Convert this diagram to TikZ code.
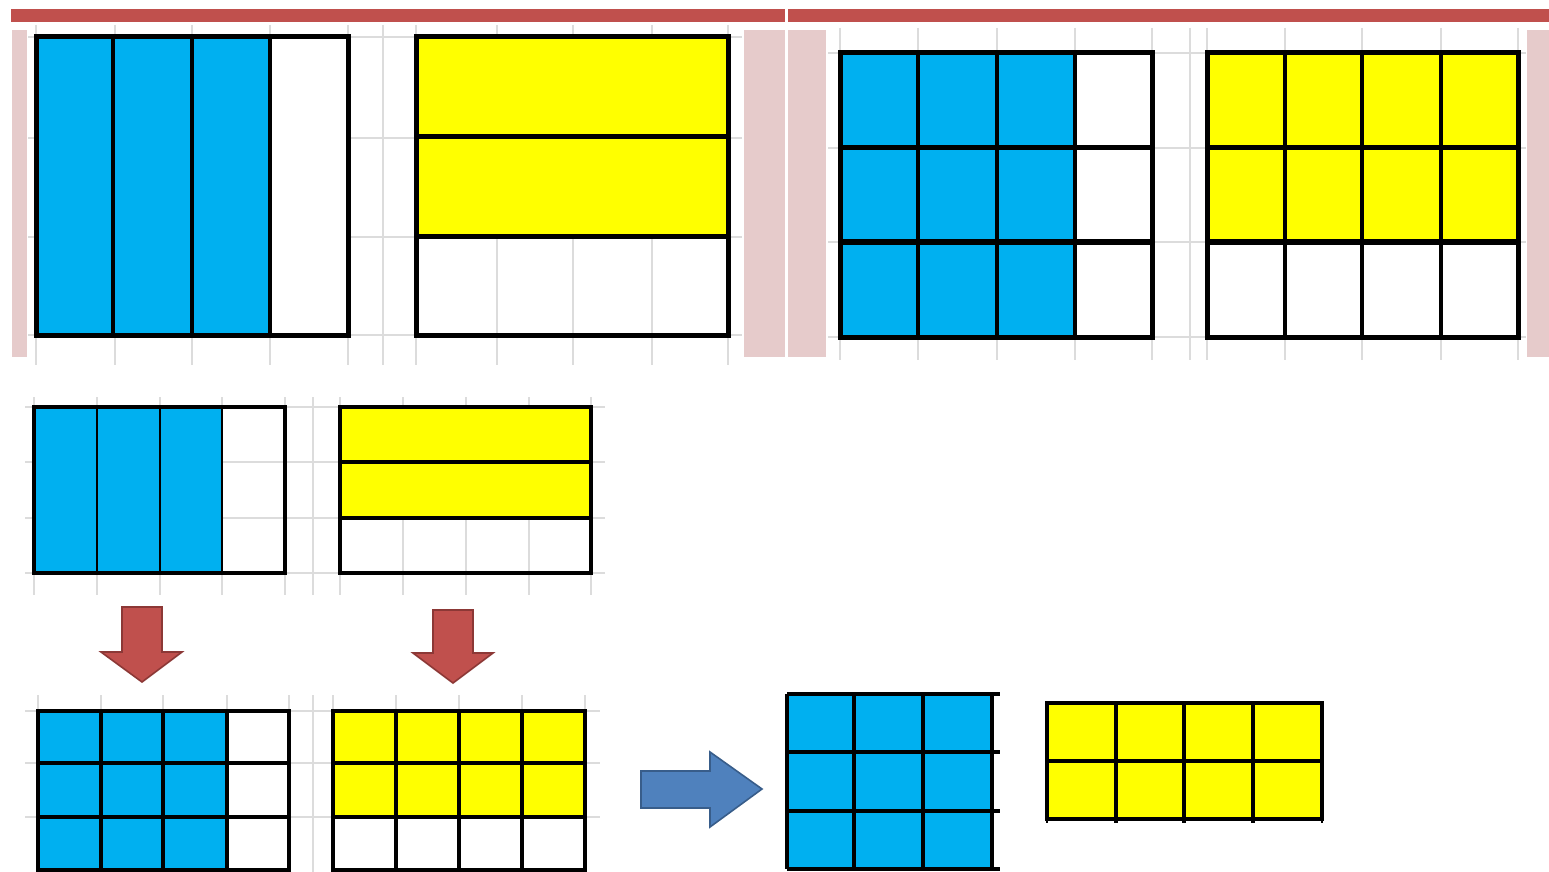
\documentclass[tikz,border=0pt]{standalone}
\definecolor{cblue}{HTML}{00B0F0}
\definecolor{cyel}{HTML}{FFFF00}
\definecolor{cred}{HTML}{C0504D}
\definecolor{credd}{HTML}{8C3836}
\definecolor{carrb}{HTML}{4F81BD}
\definecolor{carrbd}{HTML}{385D8A}
\definecolor{cpink}{HTML}{E6CBCB}
\definecolor{cgrid}{HTML}{DCDCDC}
\tikzset{
  faint/.style={draw=cgrid, line width=0.6pt},
  outerb/.style={draw=black, line width=2.5pt, line join=miter},
  innerb/.style={draw=black, line width=1.7pt},
  midb/.style={draw=black, line width=1.6pt},
  midi/.style={draw=black, line width=1.3pt},
  botb/.style={draw=black, line width=2pt},
  redarrow/.style={fill=cred, draw=credd, line width=0.8pt, line join=miter},
  bluearrow/.style={fill=carrb, draw=carrbd, line width=0.8pt, line join=miter}
}
\begin{document}
\begin{tikzpicture}[x=0.5pt,y=-0.5pt]
\useasboundingbox (0,0) rectangle (1549,872);
\clip (0,0) rectangle (1549,872);
\fill[white] (0,0) rectangle (1549,872);

% ---------- top banner ----------
\fill[cred] (11,9) rectangle (785,22);
\fill[cred] (788,9) rectangle (1549,22);
\fill[cpink] (12,30) rectangle (27,357);
\fill[cpink] (744,30) rectangle (785,357);
\fill[cpink] (788,30) rectangle (826,357);
\fill[cpink] (1527,30) rectangle (1549,357);

% ---------- top-left panel: faint grid ----------
\foreach \x in {36,115,192,270,348,383} \draw[faint] (\x,25) -- (\x,365);
\foreach \y in {37,138,237,335} \draw[faint] (28,\y) -- (400,\y);
\foreach \x in {416,497,573,652,728} \draw[faint] (\x,25) -- (\x,365);
\foreach \y in {37,138,237,335} \draw[faint] (400,\y) -- (742,\y);

% blue 3/4
\fill[cblue] (36,37) rectangle (270,335);
\fill[white] (270,37) rectangle (348,335);
\foreach \x in {113,192,270} \draw[innerb] (\x,37) -- (\x,335);
\draw[outerb] (36,37) rectangle (348,335);

% yellow 2/3
\fill[cyel] (416,37) rectangle (728,237);
\fill[white] (416,237) rectangle (728,335);
\foreach \x in {497,573,652} \draw[faint] (\x,237) -- (\x,335);
\foreach \y in {137,237} \draw[outerb] (416,\y) -- (728,\y);
\draw[outerb] (416,37) rectangle (728,335);

% ---------- top-right panel ----------
\foreach \x in {840,918,997,1075,1152,1190,1207,1285,1362,1441,1518} \draw[faint] (\x,28) -- (\x,360);
\foreach \y in {53,148,242,337} \draw[faint] (828,\y) -- (1526,\y);
\fill[cblue] (840,53) rectangle (1075,337);
\fill[white] (1075,53) rectangle (1152,337);
\foreach \x in {918,997,1075} \draw[innerb] (\x,53) -- (\x,337);
\foreach \y in {148,242} \draw[outerb] (840,\y) -- (1152,\y);
\draw[outerb] (840,53) rectangle (1152,337);

\fill[cyel] (1207,53) rectangle (1518,242);
\fill[white] (1207,242) rectangle (1518,337);
\foreach \x in {1285,1362,1441} \draw[innerb] (\x,53) -- (\x,337);
\foreach \y in {148,242} \draw[outerb] (1207,\y) -- (1518,\y);
\draw[outerb] (1207,53) rectangle (1518,337);

% ---------- middle row ----------
\foreach \x in {34,97,160,222,285,313,340,403,466,529,591} \draw[faint] (\x,397) -- (\x,595);
\foreach \y in {407,462,518,573} \draw[faint] (25,\y) -- (605,\y);
\fill[cblue] (34,407) rectangle (222,573);
\fill[white] (222,407) rectangle (285,573);
\foreach \y in {462,518} \draw[faint] (222,\y) -- (285,\y);
\foreach \x in {97,160,222} \draw[midi] (\x,407) -- (\x,573);
\draw[midb] (34,407) rectangle (285,573);

\fill[cyel] (340,407) rectangle (591,518);
\fill[white] (340,518) rectangle (591,573);
\foreach \x in {403,466,529} \draw[faint] (\x,518) -- (\x,573);
\foreach \y in {462,518} \draw[midb] (340,\y) -- (591,\y);
\draw[midb] (340,407) rectangle (591,573);

% red arrows
\draw[redarrow] (122,607) -- (162,607) -- (162,652) -- (182,652) -- (142,682) -- (101,652) -- (122,652) -- cycle;
\draw[redarrow] (433,610) -- (473,610) -- (473,653) -- (493,653) -- (453,683) -- (413,653) -- (433,653) -- cycle;

% ---------- bottom row ----------
\foreach \x in {38,101,163,227,289,313,333,396,459,522,585} \draw[faint] (\x,695) -- (\x,872);
\foreach \y in {711,763,817} \draw[faint] (25,\y) -- (600,\y);
\fill[cblue] (38,711) rectangle (227,870);
\fill[white] (227,711) rectangle (289,870);
\foreach \x in {101,163,227} \draw[botb] (\x,711) -- (\x,870);
\foreach \y in {763,817} \draw[botb] (38,\y) -- (289,\y);
\draw[botb] (38,711) rectangle (289,870);

\fill[cyel] (333,711) rectangle (585,817);
\fill[white] (333,817) rectangle (585,870);
\foreach \x in {396,459,522} \draw[botb] (\x,711) -- (\x,870);
\foreach \y in {763,817} \draw[botb] (333,\y) -- (585,\y);
\draw[botb] (333,711) rectangle (585,870);

% blue right arrow
\draw[bluearrow] (641,771) -- (710,771) -- (710,752) -- (762,789) -- (710,827) -- (710,808) -- (641,808) -- cycle;

% result grids
\fill[cblue] (787,694) rectangle (992,869);
\foreach \x in {854,923} \draw[botb] (\x,694) -- (\x,869);
\draw[botb] (787,694) -- (787,869);
\draw[botb] (992,694) -- (992,869);
\foreach \y in {694,752,811,869} \draw[botb] (787,\y) -- (1000,\y);

\fill[cyel] (1047,703) rectangle (1322,819);
\foreach \x in {1116,1184,1253} \draw[botb] (\x,703) -- (\x,823);
\draw[botb] (1047,761) -- (1322,761);
\draw[botb] (1047,703) rectangle (1322,819);
\foreach \x in {1047,1322} \draw[line width=1pt] (\x,819) -- (\x,823);
\end{tikzpicture}
\end{document}
